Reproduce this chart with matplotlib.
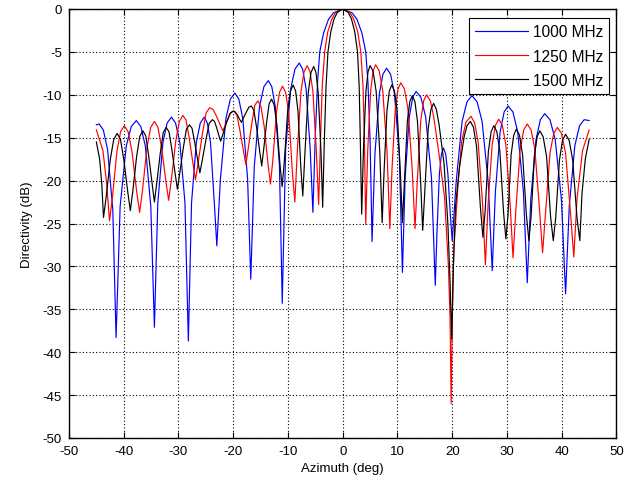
import matplotlib
matplotlib.use("Agg")
import matplotlib.pyplot as plt

# (azimuth deg, directivity dB)
pts_1000 = [
    (-45.0, -13.5), (-44.5, -13.4), (-43.73, -14.1), (-42.95, -16.4), (-42.0, -23.4),
    (-41.4, -38.3), (-40.66, -23.0), (-39.55, -16.0), (-38.63, -13.7), (-37.7, -13.0),
    (-36.88, -13.7), (-36.05, -16.0), (-35.06, -23.0), (-34.4, -37.1), (-33.78, -22.6),
    (-32.85, -15.6), (-32.08, -13.3), (-31.3, -12.6), (-30.53, -13.3), (-29.75, -15.6),
    (-28.82, -22.6), (-28.2, -38.7), (-27.62, -22.6), (-26.75, -15.6), (-26.03, -13.3),
    (-25.3, -12.6), (-24.73, -13.3), (-24.15, -15.6), (-23.46, -22.6), (-23.0, -27.6),
    (-22.34, -19.8), (-21.35, -12.8), (-20.53, -10.5), (-19.7, -9.8), (-18.98, -10.5),
    (-18.25, -12.8), (-17.38, -19.8), (-16.8, -31.5), (-16.16, -18.35), (-15.2, -11.35),
    (-14.4, -9.05), (-13.6, -8.35), (-12.96, -9.05), (-12.33, -11.35), (-11.56, -18.35),
    (-11.05, -34.3), (-10.43, -16.3), (-9.5, -9.3), (-8.73, -7.0), (-7.95, -6.3),
    (-7.33, -7.0), (-6.7, -9.3), (-5.95, -16.3), (-5.45, -23.7), (-5.0, -14.5),
    (-4.6, -8.5), (-4.2, -5.0), (-3.5, -2.8), (-2.6, -1.2), (-1.7, -0.45),
    (0.0, 0.0), (1.7, -0.45), (2.6, -1.2), (3.5, -2.8), (4.2, -5.0),
    (4.6, -8.5), (5.0, -15.5), (5.35, -27.1), (5.88, -16.9), (6.68, -9.9),
    (7.34, -7.6), (8.0, -6.9), (8.73, -7.6), (9.45, -9.9), (10.32, -16.9),
    (10.9, -30.7), (11.4, -19.6), (12.15, -12.6), (12.78, -10.3), (13.4, -9.6),
    (14.28, -10.3), (15.15, -12.6), (16.2, -19.6), (16.9, -32.2), (17.2, -26.2),
    (17.65, -19.2), (18.03, -16.9), (18.4, -16.2), (18.8, -16.9), (19.2, -19.2),
    (19.68, -24.3), (20.0, -27.0), (20.72, -20.1), (21.8, -13.1), (22.7, -10.8),
    (23.6, -10.1), (24.53, -10.8), (25.45, -13.1), (26.56, -20.1), (27.3, -30.5),
    (27.88, -21.3), (28.75, -14.3), (29.48, -12.0), (30.2, -11.3), (31.08, -12.0),
    (31.95, -14.3), (33.0, -21.3), (33.7, -31.9), (34.34, -22.2), (35.3, -15.2),
    (36.1, -12.9), (36.9, -12.2), (37.85, -12.9), (38.8, -15.2), (39.94, -22.2),
    (40.7, -33.2), (41.38, -22.9), (42.4, -15.9), (43.25, -13.6), (44.1, -12.9),
    (45.0, -13.0),
]

pts_1250 = [
    (-45.0, -14.1), (-43.8, -16.5), (-43.1, -20.5), (-42.6, -24.7), (-42.06, -21.9),
    (-41.25, -16.6), (-40.58, -14.3), (-39.9, -13.6), (-39.2, -14.3), (-38.5, -16.6),
    (-37.66, -21.2), (-37.1, -23.7), (-36.56, -21.05), (-35.75, -16.1), (-35.08, -13.8),
    (-34.4, -13.1), (-33.75, -13.8), (-33.1, -16.1), (-32.32, -20.0), (-31.8, -22.3),
    (-31.28, -19.8), (-30.5, -15.4), (-29.85, -13.1), (-29.2, -12.4), (-28.63, -12.93),
    (-28.05, -15.0), (-27.36, -18.0), (-26.9, -19.9), (-26.38, -17.8), (-25.6, -14.4),
    (-24.95, -12.1), (-24.3, -11.5), (-23.7, -11.7), (-23.1, -12.45), (-22.38, -13.5),
    (-21.9, -14.2), (-21.5, -13.6), (-20.9, -12.7), (-20.4, -12.05), (-19.9, -11.9),
    (-19.35, -12.33), (-18.8, -14.1), (-18.14, -16.55), (-17.7, -18.1), (-17.26, -16.25),
    (-16.6, -13.3), (-16.05, -11.2), (-15.5, -10.7), (-14.93, -11.4), (-14.35, -13.7),
    (-13.66, -18.0), (-13.2, -20.4), (-12.76, -17.55), (-12.1, -12.0), (-11.55, -9.7),
    (-11.0, -9.0), (-10.44, -9.7), (-9.88, -12.0), (-9.2, -19.0), (-8.75, -22.5),
    (-8.3, -16.6), (-7.63, -9.6), (-7.06, -7.3), (-6.5, -6.6), (-5.98, -7.3),
    (-5.45, -9.6), (-4.82, -16.6), (-4.4, -22.8), (-4.05, -15.0), (-3.75, -9.0),
    (-3.3, -5.0), (-2.75, -2.7), (-2.0, -1.17), (-1.3, -0.4), (0.0, 0.0),
    (1.3, -0.4), (2.0, -1.17), (2.75, -2.7), (3.3, -5.0), (3.7, -9.0),
    (3.95, -15.0), (4.2, -25.1), (4.56, -16.5), (5.1, -9.5), (5.55, -7.2),
    (6.0, -6.5), (6.65, -7.2), (7.3, -9.5), (8.08, -16.5), (8.6, -25.6),
    (9.0, -18.6), (9.6, -11.6), (10.1, -9.3), (10.6, -8.6), (11.25, -9.3),
    (11.9, -11.6), (12.68, -18.6), (13.2, -25.6), (13.62, -20.0), (14.25, -13.0),
    (14.78, -10.7), (15.3, -10.0), (16.0, -10.7), (16.6, -12.5), (17.6, -17.0),
    (18.6, -22.0), (19.3, -30.0), (19.6, -36.0), (19.8, -46.0), (20.0, -36.0),
    (20.3, -28.0), (21.0, -21.0), (21.7, -15.5), (22.5, -13.2), (23.4, -12.5),
    (24.06, -13.2), (24.73, -15.5), (25.52, -22.5), (26.05, -29.8), (26.54, -22.85),
    (27.28, -15.85), (27.89, -13.55), (28.5, -12.85), (29.15, -13.55), (29.8, -15.85),
    (30.58, -22.85), (31.1, -29.0), (31.62, -23.4), (32.4, -16.4), (33.05, -14.1),
    (33.7, -13.4), (34.4, -14.1), (35.1, -16.4), (35.94, -23.4), (36.5, -28.4),
    (37.04, -23.8), (37.85, -16.8), (38.53, -14.5), (39.2, -13.8), (39.95, -14.5),
    (40.7, -16.8), (41.6, -23.8), (42.2, -28.9), (42.8, -22.0), (43.8, -16.5),
    (45.0, -14.1),
]

pts_1500 = [
    (-45.0, -15.5), (-44.4, -17.5), (-44.0, -20.5), (-43.7, -24.3), (-43.2, -21.85),
    (-42.45, -17.5), (-41.83, -15.2), (-41.2, -14.5), (-40.6, -15.2), (-40.0, -17.5),
    (-39.28, -21.25), (-38.8, -23.5), (-38.34, -21.2), (-37.65, -17.2), (-37.08, -14.85),
    (-36.5, -14.2), (-35.98, -14.8), (-35.45, -17.1), (-34.82, -20.4), (-34.4, -22.5),
    (-33.97, -20.3), (-33.33, -16.8), (-32.79, -14.4), (-32.25, -13.8), (-31.74, -14.3),
    (-31.23, -16.3), (-30.61, -19.2), (-30.2, -21.0), (-29.76, -19.1), (-29.1, -16.1),
    (-28.55, -14.0), (-28.0, -13.5), (-27.53, -13.9), (-27.05, -15.5), (-26.48, -17.7),
    (-26.1, -19.1), (-25.64, -17.55), (-24.95, -15.1), (-24.38, -13.3), (-23.8, -12.9),
    (-23.43, -13.1), (-23.05, -13.8), (-22.6, -14.8), (-22.3, -15.4), (-21.84, -14.5),
    (-21.15, -13.1), (-20.58, -12.15), (-20.0, -11.9), (-19.63, -12.0), (-19.25, -12.35),
    (-18.8, -12.9), (-18.5, -13.2), (-18.14, -12.7), (-17.6, -12.0), (-17.15, -11.45),
    (-16.7, -11.3), (-16.23, -11.8), (-15.75, -13.75), (-15.18, -16.55), (-14.8, -18.3),
    (-14.44, -16.35), (-13.9, -13.2), (-13.45, -11.05), (-13.0, -10.5), (-12.52, -11.2),
    (-12.04, -13.5), (-11.46, -18.15), (-11.07, -20.7), (-10.67, -17.76), (-10.06, -11.86),
    (-9.56, -9.56), (-9.05, -8.86), (-8.61, -9.56), (-8.18, -11.86), (-7.65, -18.56),
    (-7.3, -21.8), (-6.9, -16.7), (-6.3, -9.7), (-5.8, -7.4), (-5.3, -6.7),
    (-4.89, -7.4), (-4.49, -9.7), (-3.97, -16.7), (-3.67, -23.1), (-3.35, -15.0),
    (-3.05, -9.0), (-2.7, -5.0), (-2.2, -2.7), (-1.6, -1.17), (-1.0, -0.4),
    (0.0, 0.0), (1.0, -0.4), (1.6, -1.17), (2.2, -2.7), (2.7, -5.0),
    (3.0, -9.0), (3.2, -15.0), (3.46, -23.9), (3.77, -16.6), (4.23, -9.6),
    (4.62, -7.3), (5.0, -6.6), (5.55, -7.3), (6.1, -9.6), (6.76, -16.6),
    (7.2, -24.9), (7.55, -18.85), (8.08, -11.85), (8.51, -9.55), (8.95, -8.85),
    (9.44, -9.55), (9.93, -11.85), (10.51, -18.85), (10.9, -24.9), (11.26, -20.1),
    (11.8, -13.1), (12.25, -10.8), (12.7, -10.1), (13.18, -10.8), (13.65, -13.1),
    (14.22, -20.1), (14.6, -25.8), (15.0, -21.0), (15.6, -14.0), (16.1, -11.7),
    (16.6, -11.0), (17.1, -11.7), (17.6, -13.5), (18.5, -18.0), (19.2, -25.0),
    (19.6, -31.8), (19.9, -38.5), (20.2, -30.0), (20.6, -23.0), (21.3, -18.5),
    (22.2, -14.8), (22.7, -13.6), (23.3, -13.1), (23.88, -13.8), (24.45, -16.1),
    (25.14, -23.1), (25.6, -26.6), (26.0, -23.6), (26.6, -16.6), (27.1, -14.3),
    (27.6, -13.6), (28.15, -14.3), (28.7, -16.6), (29.36, -23.6), (29.8, -26.8),
    (30.18, -24.0), (30.75, -17.0), (31.23, -14.7), (31.7, -14.0), (32.28, -14.7),
    (32.85, -17.0), (33.54, -24.0), (34.0, -27.0), (34.4, -24.2), (35.0, -17.2),
    (35.5, -14.9), (36.0, -14.2), (36.61, -14.9), (37.23, -17.2), (37.96, -24.2),
    (38.45, -27.0), (38.9, -24.3), (39.58, -17.6), (40.14, -15.3), (40.7, -14.6),
    (41.35, -15.3), (42.0, -17.6), (42.78, -24.3), (43.3, -27.0), (43.7, -21.5),
    (44.3, -17.5), (45.0, -15.2),
]

labels = ["1000 MHz", "1250 MHz", "1500 MHz"]
colors = ["#0000ff", "#ff0000", "#000000"]

plt.rcParams["font.family"] = ["Liberation Sans", "DejaVu Sans"]
plt.rcParams["font.size"] = 9.5
plt.rcParams["axes.unicode_minus"] = False

fig = plt.figure(figsize=(6.44, 4.89), dpi=100)
ax = fig.add_axes([69 / 644, 50 / 489, 547.5 / 644, 429 / 489])

for pts, lab, col in zip([pts_1000, pts_1250, pts_1500], labels, colors):
    az = [p[0] for p in pts]
    db = [p[1] for p in pts]
    ax.plot(az, db, color=col, lw=0.85, label=lab)

ax.set_xlim(-50, 50)
ax.set_ylim(-50, 0)
ax.set_xticks(range(-50, 51, 10))
ax.set_yticks(range(-50, 1, 5))
ax.grid(True, color="k", linestyle=(0, (1, 2)), lw=0.8)
ax.tick_params(direction="in", top=True, right=True, length=4, width=0.8,
               colors="k", pad=5)
for s in ax.spines.values():
    s.set_linewidth(1.0)
ax.set_xlabel("Azimuth (deg)", labelpad=4)
ax.set_ylabel("Directivity (dB)", labelpad=7)

leg = ax.legend(loc="upper right", fancybox=False, edgecolor="k", framealpha=1,
                fontsize=11.2, handlelength=3.4, handletextpad=0.3,
                labelspacing=0.6, borderaxespad=0,
                bbox_to_anchor=(1 - 7.2 / 547.5, 1 - 9 / 429))
leg.get_frame().set_linewidth(0.8)

fig.savefig("out.png", dpi=100)
